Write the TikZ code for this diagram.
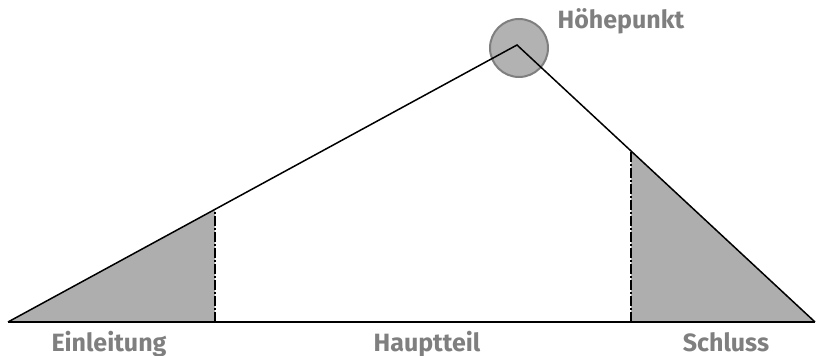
\documentclass[tikz,border=0pt]{standalone}
\usepackage{fontspec}
\setmainfont{Fira Sans}
\definecolor{shadegray}{HTML}{AEAEAE}
\definecolor{labelgray}{HTML}{7F7F7F}
\definecolor{peakgray}{HTML}{B2B2B2}
\usetikzlibrary{calc}

\begin{document}
\begin{tikzpicture}[
  x=1pt, y=1pt,
  font=\bfseries\fontsize{25}{28}\selectfont,
  outline/.style={line width=1.5pt, color=black},
  divider/.style={line width=1.3pt, dash pattern=on 10pt off 2pt on 2pt off 2pt},
  part/.style={fill=shadegray, draw=none},
  peakmark/.style={circle, fill=peakgray, draw=labelgray, line width=2pt,
                   minimum size=58pt, inner sep=0pt},
  lbl/.style={text=labelgray, inner sep=0pt, anchor=base},
]
  \useasboundingbox (0,0) rectangle (820,356);
  \coordinate (start) at (8,34);
  \coordinate (peak)  at (517,311);
  \coordinate (end)   at (815,34);
  \coordinate (ltop)  at ($(start)!0.4067!(peak)$);
  \coordinate (rtop)  at ($(peak)!0.3826!(end)$);
  \coordinate (lbase) at (ltop |- start);
  \coordinate (rbase) at (rtop |- start);

  % shaded parts
  \fill[part] (start) -- (ltop) -- (lbase) -- cycle;
  \fill[part] (rtop) -- (end) -- (rbase) -- cycle;

  \node[peakmark] (hp) at (519,308) {};

  \draw[outline] (start) -- (peak) -- (end);
  \draw[line width=2pt] (start) -- (end);
  \draw[divider] (lbase) -- (ltop);
  \draw[divider] (rbase) -- (rtop);

  \node[lbl] (hptext) at (621,327) {Höhepunkt};
  \node[lbl] (einl)   at (109,4)   {Einleitung};
  \node[lbl] (haupt)  at (427,4)   {Hauptteil};
  \node[lbl] (schl)   at (726,4)   {Schluss};
\end{tikzpicture}
\end{document}
